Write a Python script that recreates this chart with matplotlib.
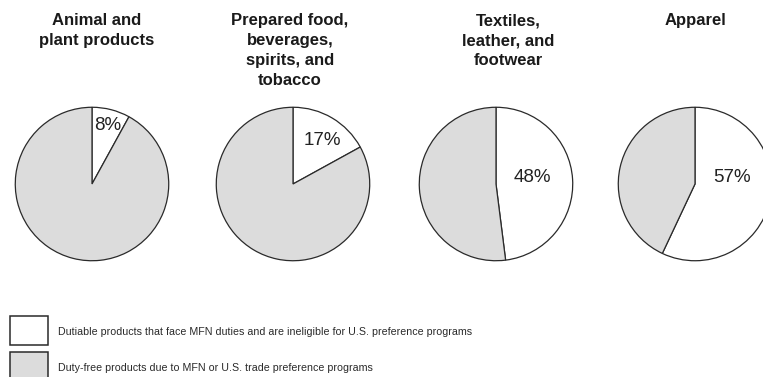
import matplotlib
matplotlib.use("Agg")
import matplotlib.pyplot as plt
from matplotlib.patches import Rectangle

# data
titles = ["Animal and\nplant products",
          "Prepared food,\nbeverages,\nspirits, and\ntobacco",
          "Textiles,\nleather, and\nfootwear",
          "Apparel"]
dutiable_pct = [8, 17, 48, 57]
legend_labels = ["Dutiable products that face MFN duties and are ineligible for U.S. preference programs",
                 "Duty-free products due to MFN or U.S. trade preference programs"]

# layout (pixels)
W, H = 763, 377
pie_cx = [92, 293, 496, 695]
pie_cy = 184
pie_r = 77.5
title_cx = [97, 290, 508, 695]
lab_off = [(0.20, 0.76), (0.38, 0.57), (0.47, 0.08), (0.48, 0.08)]

WHITE, GREY, EDGE = "#ffffff", "#dcdcdc", "#2a2a2a"
FONT = ["Liberation Sans", "DejaVu Sans"]

fig = plt.figure(figsize=(W / 100, H / 100), dpi=100)
fig.patch.set_facecolor("white")

for i, pct in enumerate(dutiable_pct):
    ax = fig.add_axes([(pie_cx[i] - pie_r) / W, (H - pie_cy - pie_r) / H,
                       2 * pie_r / W, 2 * pie_r / H])
    ax.pie([pct, 100 - pct], colors=[WHITE, GREY], startangle=90, counterclock=False,
           radius=1.0, wedgeprops=dict(edgecolor=EDGE, linewidth=0.9))
    ax.set_xlim(-1.01, 1.01); ax.set_ylim(-1.01, 1.01)
    ax.set_aspect("equal")
    ax.axis("off")
    ax.text(lab_off[i][0], lab_off[i][1], f"{pct}%", ha="center", va="center",
            fontsize=13.5, family=FONT, color="#222222")

over = fig.add_axes([0, 0, 1, 1], facecolor="none")
over.set_xlim(0, W); over.set_ylim(H, 0)
over.axis("off")

for i, t in enumerate(titles):
    over.text(title_cx[i], 13, t, ha="center", va="top", fontsize=12,
              fontweight="bold", family=FONT, color="#1a1a1a", linespacing=1.42)

for j, (lab, col) in enumerate(zip(legend_labels, [WHITE, GREY])):
    y0 = 316 + j * 36
    over.add_patch(Rectangle((10, y0), 38, 29, facecolor=col, edgecolor=EDGE, linewidth=1.1))
    over.text(58, y0 + 16, lab, ha="left", va="center", fontsize=7.65, family=FONT,
              color="#2a2a2a")

fig.savefig("out.png", dpi=100)
